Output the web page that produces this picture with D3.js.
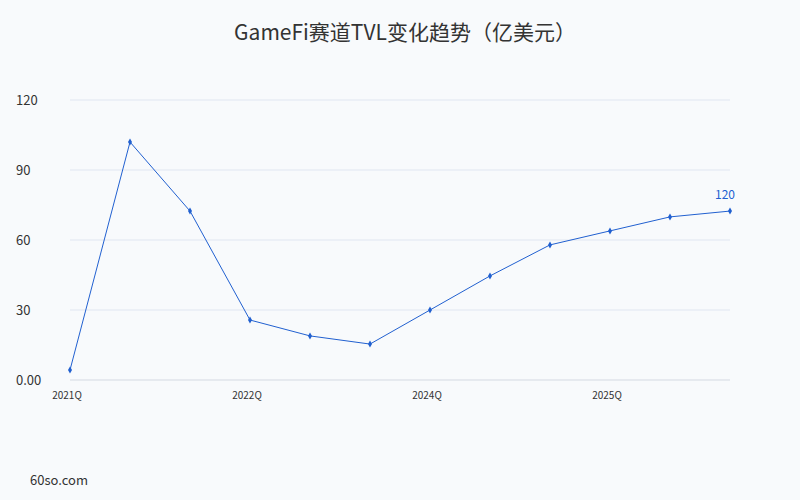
<!DOCTYPE html>
<html>
<head>
<meta charset="utf-8">
<script src="https://cdn.jsdelivr.net/npm/d3@7/dist/d3.min.js"></script>
<style>
  html, body { margin: 0; padding: 0; background: #f8fafc; }
  svg { display: block; font-family: "Noto Sans CJK SC", "Noto Sans", sans-serif; }
</style>
</head>
<body>
<svg id="chart" width="800" height="500"></svg>
<script>
// 季度类目（只显示部分刻度标签）
const quarters = ["2021Q", "2021Q2", "2021Q3", "2022Q", "2022Q2", "2022Q3",
                  "2024Q", "2024Q2", "2024Q3", "2025Q", "2025Q2", "2025Q3"];
const tickLabels = ["2021Q", "2022Q", "2024Q", "2025Q"];
const tvl = [4.3, 102, 72.4, 25.7, 18.9, 15.4, 30, 44.6, 57.9, 63.9, 69.9, 72.4];
const yTicks = [0, 30, 60, 90, 120];
const endLabel = "120";

const svg = d3.select("#chart");
const margin = { top: 100, right: 70, bottom: 120, left: 70 };
const W = 800, H = 500;
const color = "#2160d0";

const x = d3.scalePoint().domain(quarters).range([margin.left, W - margin.right]);
const y = d3.scaleLinear().domain([0, 120]).range([H - margin.bottom, margin.top]);

svg.append("rect").attr("width", W).attr("height", H).attr("fill", "#f8fafc");

// 标题
svg.append("text")
  .attr("x", W / 2 + 5).attr("y", 40)
  .attr("text-anchor", "middle")
  .attr("font-size", 21)
  .attr("fill", "#333")
  .text("GameFi赛道TVL变化趋势（亿美元）");

// 网格线
svg.append("g").selectAll("line")
  .data(yTicks)
  .join("line")
  .attr("x1", margin.left).attr("x2", W - margin.right)
  .attr("y1", d => y(d)).attr("y2", d => y(d))
  .attr("stroke", d => d === 0 ? "#d4d9e2" : "#e0e6f1")
  .attr("stroke-width", 1);

// Y 轴标签
svg.append("g").selectAll("text")
  .data(yTicks)
  .join("text")
  .attr("x", 16)
  .attr("y", d => y(d) + 5)
  .attr("font-size", 13)
  .attr("fill", "#333")
  .text(d => d === 0 ? "0.00" : d);

// X 轴标签
svg.append("g").selectAll("text")
  .data(tickLabels)
  .join("text")
  .attr("x", d => x(d) - 3)
  .attr("y", H - margin.bottom + 19)
  .attr("text-anchor", "middle")
  .attr("font-size", 10)
  .attr("fill", "#333")
  .text(d => d);

// 折线
const line = d3.line()
  .x((d, i) => x(quarters[i]))
  .y(d => y(d));

svg.append("path")
  .datum(tvl)
  .attr("d", line)
  .attr("fill", "none")
  .attr("stroke", color)
  .attr("stroke-width", 1);

// 点标记（小菱形）
svg.append("g").selectAll("path")
  .data(tvl)
  .join("path")
  .attr("transform", (d, i) => `translate(${x(quarters[i])},${y(d)})`)
  .attr("d", d3.symbol(d3.symbolDiamond, 14))
  .attr("fill", color);

// 末端标签
const last = tvl.length - 1;
svg.append("text")
  .attr("x", x(quarters[last]) - 5)
  .attr("y", y(tvl[last]) - 12)
  .attr("text-anchor", "middle")
  .attr("font-size", 12)
  .attr("fill", color)
  .text(endLabel);

// 来源
svg.append("text")
  .attr("x", 30).attr("y", 485)
  .attr("font-size", 13)
  .attr("fill", "#333")
  .text("60so.com");
</script>
</body>
</html>
